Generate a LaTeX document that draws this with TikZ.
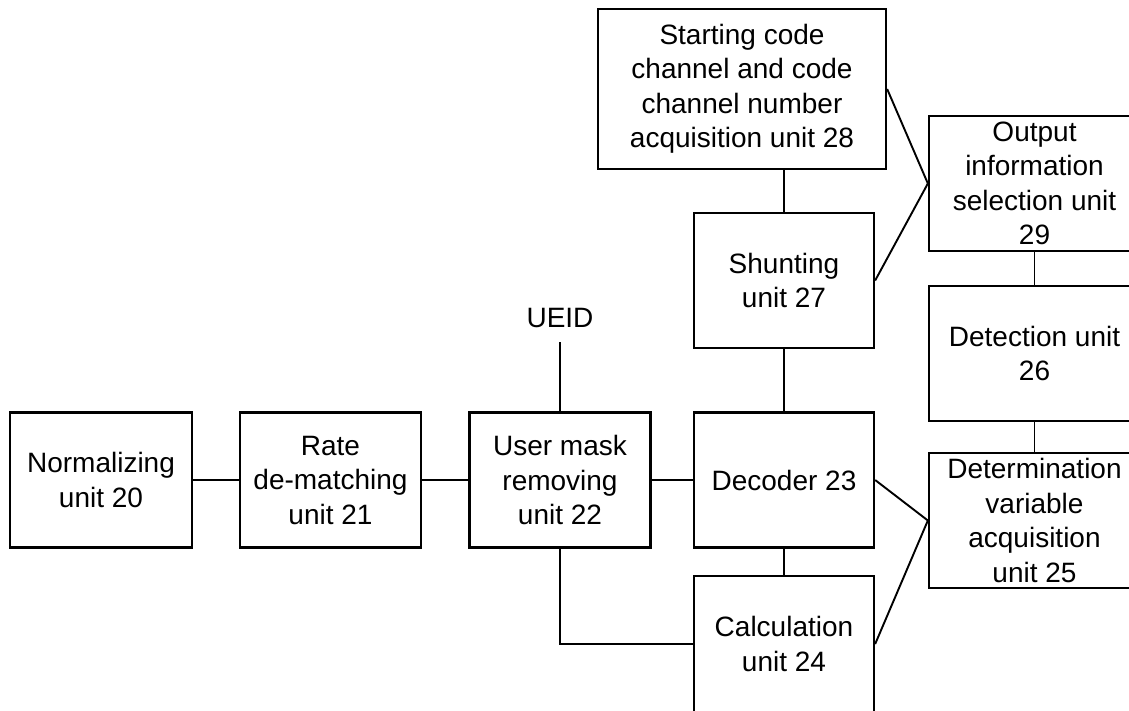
\documentclass[tikz,border=0pt]{standalone}
\usepackage{fontspec}
\setmainfont{Liberation Sans}
\begin{document}
\begin{tikzpicture}[x=1pt,y=-1pt,
  unit/.style={draw=black, line width=2.3pt, rectangle, inner sep=0pt, align=center,
    font=\fontsize{28}{34.5}\selectfont},
  link/.style={draw=black, line width=2.3pt},
  thin link/.style={draw=black, line width=1.9pt}]
\useasboundingbox (0,0) rectangle (1129,710);
\clip (0,0) rectangle (1129,710);
\fill[white] (0,0) rectangle (1129,710);
% boxes
\node[unit, minimum width=182pt, minimum height=135pt] (n20) at (101,480) {Normalizing\\unit 20};
\node[unit, minimum width=181pt, minimum height=135pt] (n21) at (330.5,480) {Rate\\de-matching\\unit 21};
\node[unit, minimum width=181pt, minimum height=135pt] (n22) at (560,480) {User mask\\removing\\unit 22};
\node[unit, minimum width=180pt, minimum height=135pt] (n23) at (784,480) {Decoder 23};
\node[unit, minimum width=180pt, minimum height=136pt] (n24) at (784,644) {Calculation\\unit 24};
\node[unit, minimum width=180pt, minimum height=135pt] (n27) at (784,280.5) {Shunting\\unit 27};
\node[unit, minimum width=288pt, minimum height=160pt] (n28) at (742,89) {Starting code\\channel and code\\channel number\\acquisition unit 28};
\node[unit, minimum width=211pt, minimum height=135pt] (n29) at (1034.5,183.5) {Output\\information\\selection unit\\29};
\node[unit, minimum width=211pt, minimum height=135pt] (n26) at (1034.5,353.5) {Detection unit\\26};
\node[unit, minimum width=211pt, minimum height=135pt] (n25) at (1034.5,520.5) {Determination\\variable\\acquisition\\unit 25};
\node[font=\fontsize{28}{34}\selectfont, inner sep=0pt] (ueid) at (560,318) {UEID};
\coordinate (ueidend) at (560,342);
% connectors
\draw[link] (n20.east) -- (n21.west);
\draw[link] (n21.east) -- (n22.west);
\draw[link] (n22.east) -- (n23.west);
\draw[thin link] (ueidend) -- (n22.north);
\draw[link] (n27.north) -- (n27.north |- n28.south);
\draw[link] (n27.south) -- (n23.north);
\draw[link] (n23.south) -- (n24.north);
\draw[thin link] (n22.south) |- (n24.west);
\draw[thin link] (n28.east) -- (n29.west);
\draw[thin link] (n27.east) -- (n29.west);
\draw[thin link] (n23.east) -- (n25.west);
\draw[thin link] (n24.east) -- (n25.west);
\draw[thin link] (n29.south) -- (n26.north);
\draw[thin link] (n26.south) -- (n25.north);
\end{tikzpicture}
\end{document}
